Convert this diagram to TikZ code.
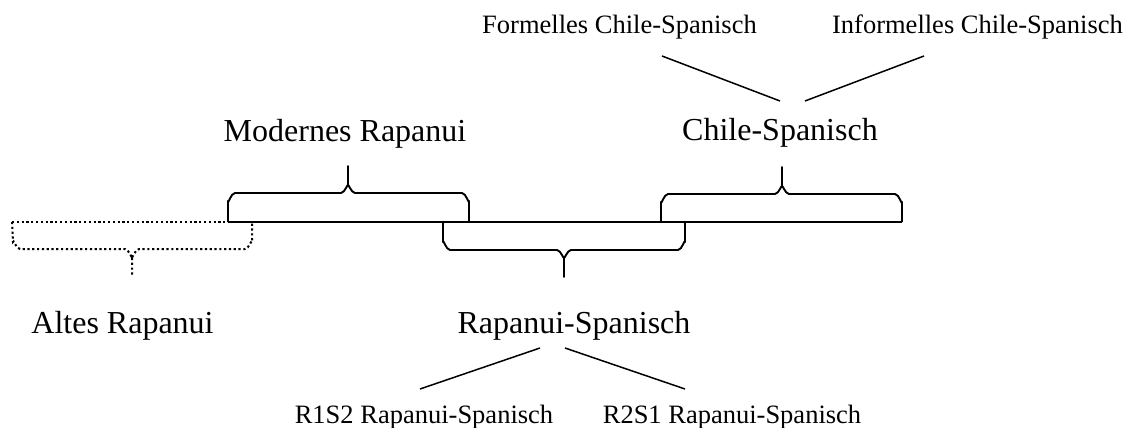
\documentclass[tikz,border=0pt]{standalone}
\usepackage{fontspec}
\setmainfont{Liberation Serif}
\begin{document}
\begin{tikzpicture}[x=1pt,y=-1pt,
  big/.style={inner sep=0pt,anchor=base,font=\fontsize{32}{38}\selectfont},
  small/.style={inner sep=0pt,anchor=base,font=\fontsize{26.5}{32}\selectfont},
  brace/.style={line width=1.9pt,line join=round},
  link/.style={line width=1.5pt},
  dotbrace/.style={line width=2pt,dash pattern=on 2.2pt off 2.6pt}]
\useasboundingbox (0,0) rectangle (1128,428);
% labels
\node[small] (fcs) at (619.5,34) {Formelles Chile-Spanisch};
\node[small] (ics) at (977.5,34) {Informelles Chile-Spanisch};
\node[big] (mr) at (345,142) {Modernes Rapanui};
\node[big] (cs) at (780,140) {Chile-Spanisch};
\node[big] (ar) at (122.5,333) {Altes Rapanui};
\node[big] (rs) at (574,333) {Rapanui-Spanisch};
\node[small] (r12) at (424,423) {R1S2 Rapanui-Spanisch};
\node[small] (r21) at (732,423) {R2S1 Rapanui-Spanisch};
% connector end points
\coordinate (fcsA) at (662,56);
\coordinate (fcsB) at (780,101);
\coordinate (icsA) at (924,56);
\coordinate (icsB) at (805,101);
\coordinate (r12A) at (420,389);
\coordinate (r12B) at (540,348);
\coordinate (r21A) at (685,389);
\coordinate (r21B) at (565,348);
\draw[link] (fcsA) -- (fcsB);
\draw[link] (icsA) -- (icsB);
\draw[link] (r12B) -- (r12A);
\draw[link] (r21B) -- (r21A);
% baseline
\coordinate (base0) at (12,222);
\coordinate (base1) at (228,222);
\coordinate (base2) at (902,222);
\draw[brace] (base1) -- (base2);
\draw[dotbrace] (base0) -- (base1);
% Modernes Rapanui brace (upward)
\draw[brace] (228,222) -- (228,201) to[out=-90,in=180] (235,193) -- (341,193)
  to[out=0,in=90] (348,186) -- (348,166) -- (348,186) to[out=90,in=180] (355,193)
  -- (462,193) to[out=0,in=-90] (469,201) -- (469,222);
% Chile-Spanisch brace (upward)
\draw[brace] (661,222) -- (661,202) to[out=-90,in=180] (668,194) -- (775,194)
  to[out=0,in=90] (782,187) -- (782,167) -- (782,187) to[out=90,in=180] (789,194)
  -- (895,194) to[out=0,in=-90] (902,202) -- (902,222);
% Rapanui-Spanisch brace (downward)
\draw[brace] (443,222) -- (443,242) to[out=90,in=180] (450,250) -- (557,250)
  to[out=0,in=-90] (564,257) -- (564,277) -- (564,257) to[out=-90,in=180] (571,250)
  -- (678,250) to[out=0,in=90] (685,242) -- (685,222);
% Altes Rapanui brace (dotted, downward)
\draw[dotbrace] (12,222) -- (13,242) to[out=90,in=180] (20,249) -- (125,249)
  to[out=0,in=-90] (132,256) -- (132,277);
\draw[dotbrace] (132,256) to[out=-90,in=180] (139,249) -- (245,249)
  to[out=0,in=90] (252,242) -- (252,222);
\end{tikzpicture}
\end{document}
